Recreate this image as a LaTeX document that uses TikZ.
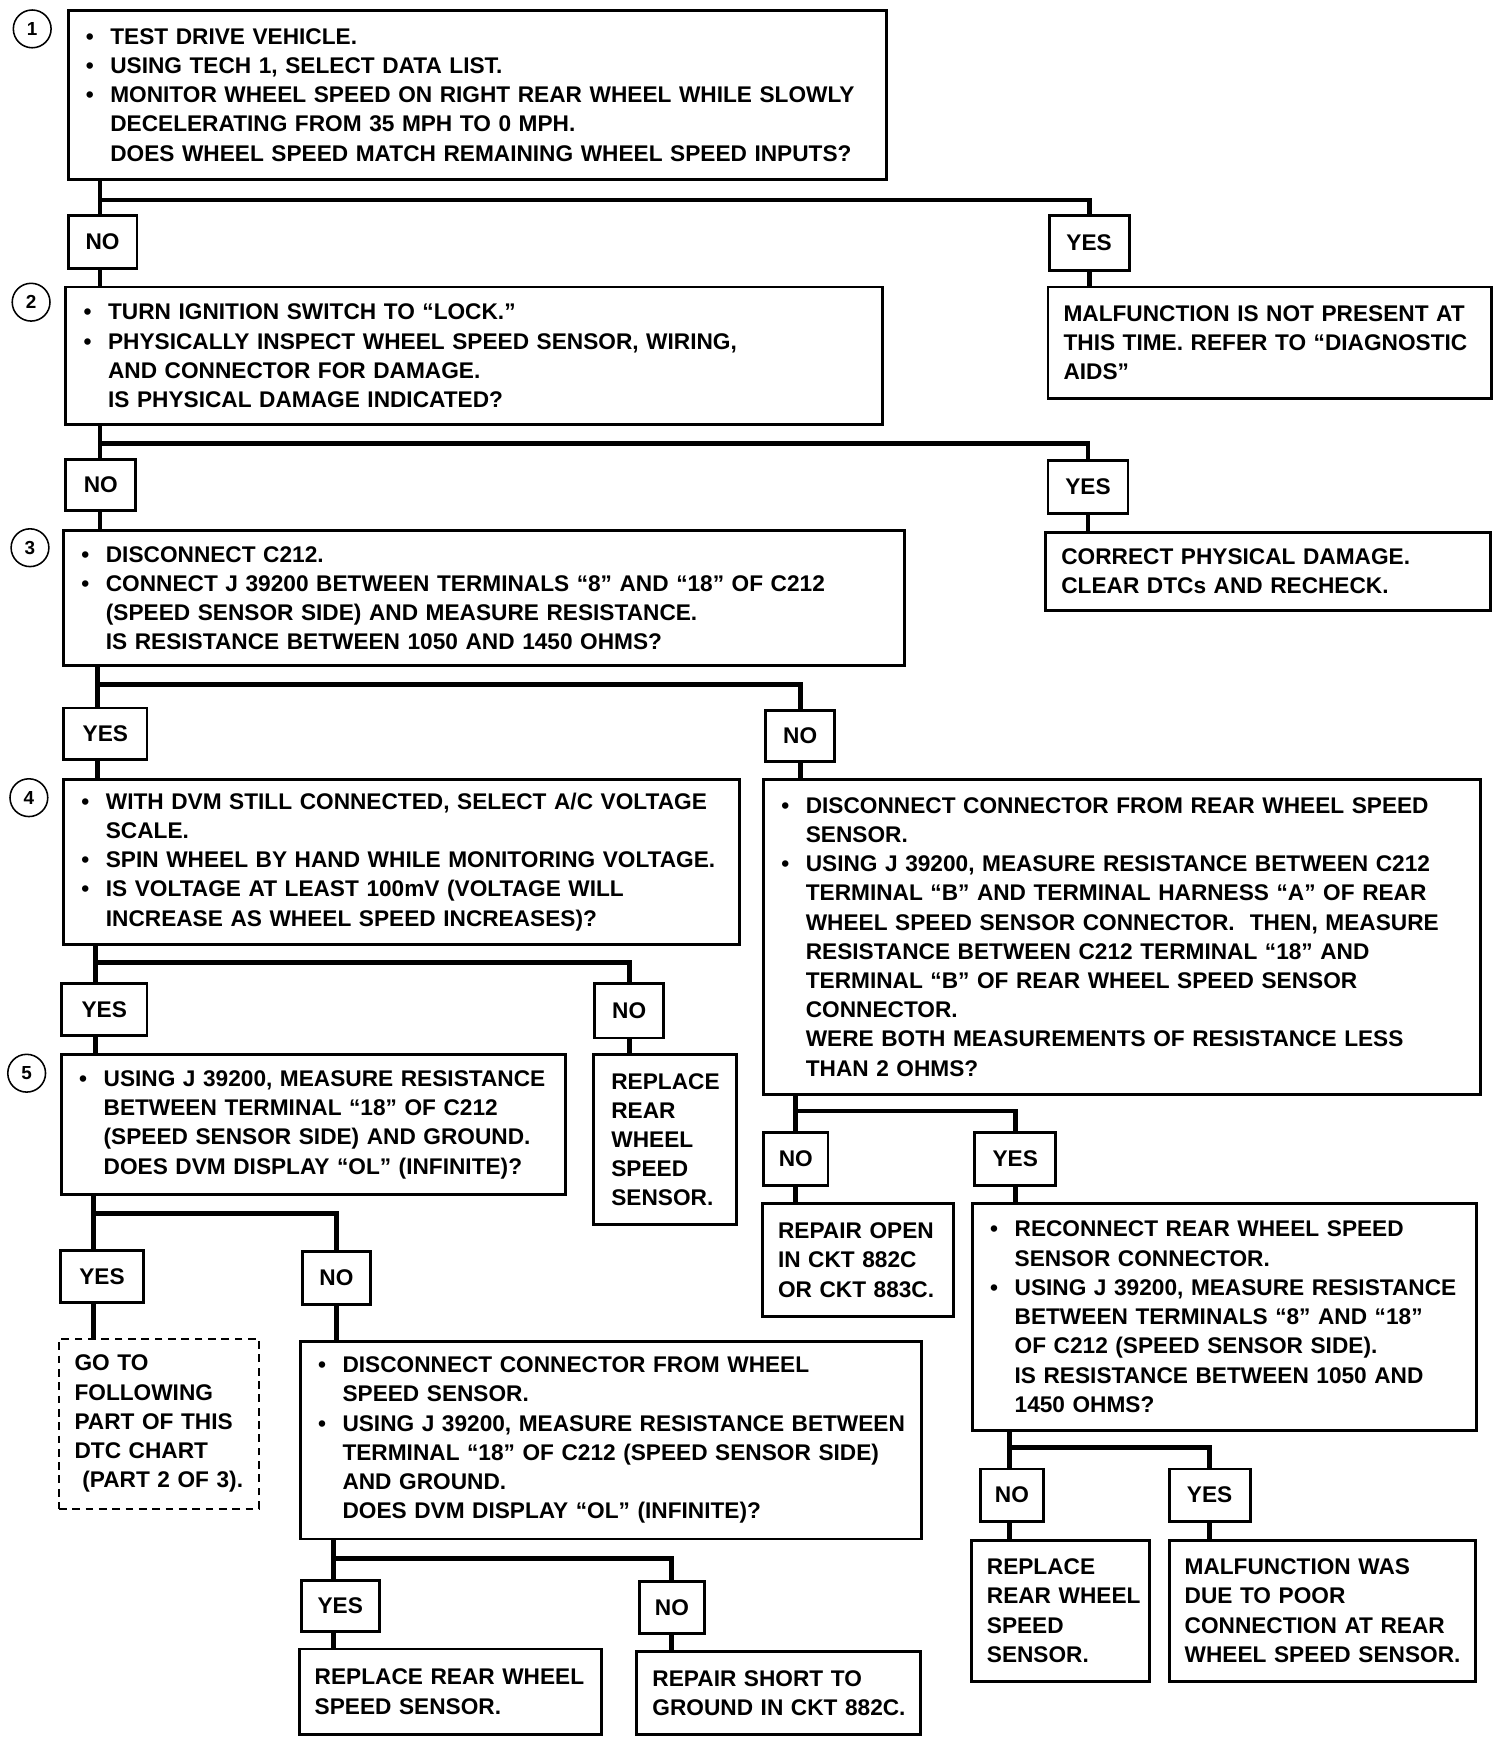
\documentclass[tikz,border=0pt]{standalone}
\usepackage{fontspec}
\setmainfont{Liberation Sans}
\newcommand\fs{\fontsize{10.2pt}{13.15pt}\selectfont\bfseries}
\newcommand\bl[1]{\makebox[11pt][l]{\textbullet}\mbox{#1}}
\newcommand\ct[1]{\hspace*{11pt}\mbox{#1}}
\newcommand\ml[1]{\mbox{#1}}
\begin{document}
\begin{tikzpicture}[x=0.5pt,y=-0.5pt,
  tbox/.style={draw, line width=1.3pt, inner xsep=8pt, inner ysep=0pt, anchor=north west, align=left, font=\fs},
  pbox/.style={tbox, inner xsep=7pt},
  lbl/.style 2 args={draw, line width=1.3pt, minimum width=#1, minimum height=#2, inner sep=0pt, anchor=north west, font=\fs},
  num/.style={circle, draw, line width=0.7pt, minimum size=17pt, inner sep=0pt, font=\fontsize{8.5pt}{8.5pt}\selectfont\bfseries},
  conn/.style={line width=2.2pt}]
\useasboundingbox (0,0) rectangle (1354,1568);

% step numbers
\node[num] (n1) at (29,26) {1};
\node[num] (n2) at (28,272) {2};
\node[num] (n3) at (27,493) {3};
\node[num] (n4) at (26,718) {4};
\node[num] (n5) at (24,966) {5};

% step 1
\node[tbox, minimum width=368.5pt, minimum height=76pt, text width=352.5pt] (b1) at (60,8) {%
\bl{TEST DRIVE VEHICLE.}\\
\bl{USING TECH 1, SELECT DATA LIST.}\\
\bl{MONITOR WHEEL SPEED ON RIGHT REAR WHEEL WHILE SLOWLY}\\
\ct{DECELERATING FROM 35 MPH TO 0 MPH.}\\
\ct{DOES WHEEL SPEED MATCH REMAINING WHEEL SPEED INPUTS?}};
\node[lbl={31pt}{23.5pt}] (no1) at (60,193) {NO};
\node[lbl={36pt}{24.5pt}] (yes1) at (943,193) {YES};
\node[pbox, minimum width=199.5pt, minimum height=50pt, text width=185.5pt] (m1) at (942,257) {%
\ml{MALFUNCTION IS NOT PRESENT AT}\\
\ml{THIS TIME. REFER TO “DIAGNOSTIC}\\
\ml{AIDS”}};

% step 2
\node[tbox, minimum width=367.5pt, minimum height=62pt, text width=351.5pt] (b2) at (58,257) {%
\bl{TURN IGNITION SWITCH TO “LOCK.”}\\
\bl{PHYSICALLY INSPECT WHEEL SPEED SENSOR, WIRING,}\\
\ct{AND CONNECTOR FOR DAMAGE.}\\
\ct{IS PHYSICAL DAMAGE INDICATED?}};
\node[lbl={31.5pt}{23pt}] (no2) at (58,412) {NO};
\node[lbl={36pt}{24pt}] (yes2) at (942,413) {YES};
\node[pbox, minimum width=200pt, minimum height=35pt, text width=186pt] (c2) at (940,478) {%
\ml{CORRECT PHYSICAL DAMAGE.}\\
\ml{CLEAR DTCs AND RECHECK.}};

% step 3
\node[tbox, minimum width=378.5pt, minimum height=61pt, text width=362.5pt] (b3) at (56,476) {%
\bl{DISCONNECT C212.}\\
\bl{CONNECT J 39200 BETWEEN TERMINALS “8” AND “18” OF C212}\\
\ct{(SPEED SENSOR SIDE) AND MEASURE RESISTANCE.}\\
\ct{IS RESISTANCE BETWEEN 1050 AND 1450 OHMS?}};
\node[lbl={37.5pt}{23pt}] (yes3) at (56,636) {YES};
\node[lbl={31pt}{23pt}] (no3) at (688,638) {NO};

% step 4
\node[tbox, minimum width=304pt, minimum height=74.5pt, text width=288pt] (b4) at (56,700) {%
\bl{WITH DVM STILL CONNECTED, SELECT A/C VOLTAGE}\\
\ct{SCALE.}\\
\bl{SPIN WHEEL BY HAND WHILE MONITORING VOLTAGE.}\\
\bl{IS VOLTAGE AT LEAST 100mV (VOLTAGE WILL}\\
\ct{INCREASE AS WHEEL SPEED INCREASES)?}};
\node[tbox, minimum width=322.5pt, minimum height=142pt, text width=306.5pt] (b4r) at (686,700) {%
\bl{DISCONNECT CONNECTOR FROM REAR WHEEL SPEED}\\
\ct{SENSOR.}\\
\bl{USING J 39200, MEASURE RESISTANCE BETWEEN C212}\\
\ct{TERMINAL “B” AND TERMINAL HARNESS “A” OF REAR}\\
\ct{WHEEL SPEED SENSOR CONNECTOR.\ \ THEN, MEASURE}\\
\ct{RESISTANCE BETWEEN C212 TERMINAL “18” AND}\\
\ct{TERMINAL “B” OF REAR WHEEL SPEED SENSOR}\\
\ct{CONNECTOR.}\\
\ct{WERE BOTH MEASUREMENTS OF RESISTANCE LESS}\\
\ct{THAN 2 OHMS?}};
\node[lbl={38.5pt}{23.5pt}] (yes4) at (54,884) {YES};
\node[lbl={31pt}{24.5pt}] (no4) at (534,884) {NO};
\node[lbl={29pt}{24pt}] (no4r) at (686,1018) {NO};
\node[lbl={36.5pt}{24pt}] (yes4r) at (876,1018) {YES};

% step 5
\node[tbox, minimum width=227pt, minimum height=63pt, text width=211pt] (b5) at (54,948) {%
\bl{USING J 39200, MEASURE RESISTANCE}\\
\ct{BETWEEN TERMINAL “18” OF C212}\\
\ct{(SPEED SENSOR SIDE) AND GROUND.}\\
\ct{DOES DVM DISPLAY “OL” (INFINITE)?}};
\node[tbox, minimum width=64.5pt, minimum height=76.5pt, text width=48.5pt] (r4) at (533,948) {%
\ml{REPLACE}\\ \ml{REAR}\\ \ml{WHEEL}\\ \ml{SPEED}\\ \ml{SENSOR.}};
\node[pbox, minimum width=86pt, minimum height=51pt, text width=72pt] (ro) at (685,1082) {%
\ml{REPAIR OPEN}\\ \ml{IN CKT 882C}\\ \ml{OR CKT 883C.}};
\node[tbox, minimum width=227pt, minimum height=102pt, text width=211pt] (rc) at (874,1082) {%
\bl{RECONNECT REAR WHEEL SPEED}\\
\ct{SENSOR CONNECTOR.}\\
\bl{USING J 39200, MEASURE RESISTANCE}\\
\ct{BETWEEN TERMINALS “8” AND “18”}\\
\ct{OF C212 (SPEED SENSOR SIDE).}\\
\ct{IS RESISTANCE BETWEEN 1050 AND}\\
\ct{1450 OHMS?}};
\node[lbl={37.5pt}{23.5pt}] (yes5) at (53,1124) {YES};
\node[lbl={30.5pt}{24pt}] (no5) at (271,1125) {NO};
\node[lbl={28.5pt}{23.5pt}] (nor) at (881,1321) {NO};
\node[lbl={36.5pt}{23.5pt}] (yesr) at (1051,1321) {YES};
\node[pbox, minimum width=80pt, minimum height=63.5pt, text width=66pt] (rr) at (873,1385) {%
\ml{REPLACE}\\ \ml{REAR WHEEL}\\ \ml{SPEED}\\ \ml{SENSOR.}};
\node[pbox, minimum width=138pt, minimum height=63.5pt, text width=124pt] (mw) at (1051,1385) {%
\ml{MALFUNCTION WAS}\\ \ml{DUE TO POOR}\\ \ml{CONNECTION AT REAR}\\ \ml{WHEEL SPEED SENSOR.}};
\node[pbox, dash pattern=on 3.5pt off 2.5pt, line width=1.1pt, minimum width=90pt, minimum height=76.5pt, text width=76pt] (go) at (52,1204) {%
\ml{GO TO}\\ \ml{FOLLOWING}\\ \ml{PART OF THIS}\\ \ml{DTC CHART}\\ \hspace*{3.5pt}\ml{(PART 2 OF 3).}};
\node[tbox, minimum width=279.5pt, minimum height=89pt, text width=263.5pt] (b6) at (269,1206) {%
\bl{DISCONNECT CONNECTOR FROM WHEEL}\\
\ct{SPEED SENSOR.}\\
\bl{USING J 39200, MEASURE RESISTANCE BETWEEN}\\
\ct{TERMINAL “18” OF C212 (SPEED SENSOR SIDE)}\\
\ct{AND GROUND.}\\
\ct{DOES DVM DISPLAY “OL” (INFINITE)?}};
\node[lbl={35pt}{23pt}] (yes6) at (270,1421) {YES};
\node[lbl={29.5pt}{23.5pt}] (no6) at (574,1422) {NO};
\node[pbox, minimum width=136pt, minimum height=38.5pt, text width=122pt] (rw) at (268,1483) {%
\ml{REPLACE REAR WHEEL}\\ \ml{SPEED SENSOR.}};
\node[pbox, minimum width=127.5pt, minimum height=37.5pt, text width=113.5pt] (rs) at (572,1485) {%
\ml{REPAIR SHORT TO}\\ \ml{GROUND IN CKT 882C.}};

% branch points
\coordinate (j1) at (90,180);
\coordinate (j2) at (90,399);
\coordinate (j3) at (88,616);
\coordinate (j4) at (86,866);
\coordinate (j4r) at (716,1000);
\coordinate (j5) at (84,1092);
\coordinate (jr) at (909,1303);
\coordinate (j6) at (300,1403);

% connectors
\draw[conn] (b1.south -| j1) -- (no1.north -| j1);
\draw[conn] (j1) -| (yes1.north);
\draw[conn] (no1.south -| j1) -- (b2.north -| j1);
\draw[conn] (yes1.south) -- (yes1.south |- m1.north);

\draw[conn] (b2.south -| j2) -- (no2.north -| j2);
\draw[conn] (j2) -| (yes2.north);
\draw[conn] (no2.south -| j2) -- (b3.north -| j2);
\draw[conn] (yes2.south) -- (yes2.south |- c2.north);

\draw[conn] (b3.south -| j3) -- (yes3.north -| j3);
\draw[conn] (j3) -| (no3.north);
\draw[conn] (yes3.south -| j3) -- (b4.north -| j3);
\draw[conn] (no3.south) -- (no3.south |- b4r.north);

\draw[conn] (b4.south -| j4) -- (yes4.north -| j4);
\draw[conn] (j4) -| (no4.north);
\draw[conn] (yes4.south -| j4) -- (b5.north -| j4);
\draw[conn] (no4.south) -- (no4.south |- r4.north);

\draw[conn] (b4r.south -| j4r) -- (no4r.north -| j4r);
\draw[conn] (j4r) -| (yes4r.north);
\draw[conn] (no4r.south -| j4r) -- (ro.north -| j4r);
\draw[conn] (yes4r.south) -- (yes4r.south |- rc.north);

\draw[conn] (b5.south -| j5) -- (yes5.north -| j5);
\draw[conn] (j5) -| (no5.north);
\draw[conn] (yes5.south -| j5) -- (go.north -| j5);
\draw[conn] (no5.south) -- (no5.south |- b6.north);

\draw[conn] (rc.south -| jr) -- (nor.north -| jr);
\draw[conn] (jr) -| (yesr.north);
\draw[conn] (nor.south -| jr) -- (rr.north -| jr);
\draw[conn] (yesr.south) -- (yesr.south |- mw.north);

\draw[conn] (b6.south -| j6) -- (yes6.north -| j6);
\draw[conn] (j6) -| (no6.north);
\draw[conn] (yes6.south -| j6) -- (rw.north -| j6);
\draw[conn] (no6.south) -- (no6.south |- rs.north);
\end{tikzpicture}
\end{document}
